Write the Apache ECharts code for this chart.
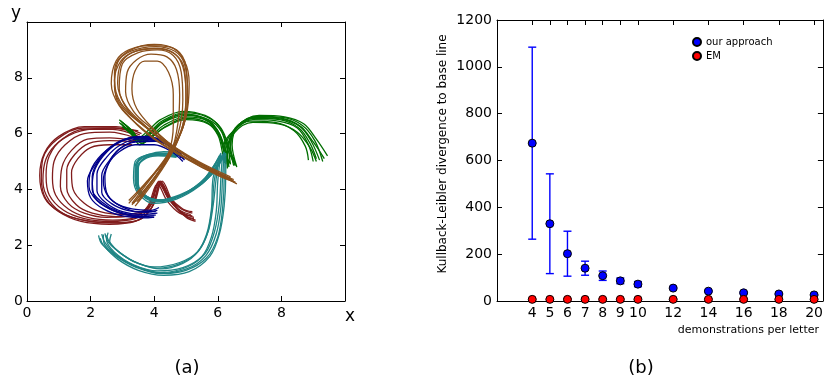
<!DOCTYPE html>
<html><head><meta charset="utf-8">
<script src="https://cdn.jsdelivr.net/npm/echarts@6/dist/echarts.min.js"></script>
<style>html,body{margin:0;padding:0;background:#fff}#c{width:826px;height:383px}</style>
</head><body><div id="c"></div>
<script>
// ---------- Panel (a): letter trajectories (x, y) ----------
const red1 = [[3.6,6.0],[2.8,6.25],[1.8,6.25],[1.0,5.9],[0.55,5.3],[0.4,4.5],[0.55,3.7],[1.0,3.2],[1.7,2.85],[2.6,2.75],[3.4,2.85],[3.9,3.3],[4.2,4.2],[4.5,3.6],[4.9,3.1],[5.3,2.9]];
const red2 = [[3.5,5.9],[2.7,6.15],[1.8,6.15],[1.1,5.8],[0.7,5.2],[0.6,4.5],[0.7,3.8],[1.15,3.25],[1.8,2.95],[2.6,2.85],[3.4,2.95],[3.85,3.35],[4.15,4.3],[4.45,3.7],[4.85,3.2],[5.25,3.0]];
const red3 = [[3.4,5.85],[2.6,6.05],[1.8,6.0],[1.2,5.6],[0.85,5.0],[0.8,4.4],[0.9,3.8],[1.3,3.3],[1.9,3.0],[2.7,2.9],[3.4,3.0],[3.8,3.4],[4.1,4.2],[4.4,3.6],[4.8,3.15],[5.2,3.05]];
const red4 = [[3.3,5.6],[2.6,5.6],[2.0,5.5],[1.6,5.1],[1.4,4.6],[1.45,4.0],[1.8,3.5],[2.3,3.2],[3.0,3.1],[3.6,3.2],[4.0,3.6],[4.2,4.3],[4.5,3.7],[4.9,3.3],[5.2,3.2]];
const red5 = [[3.5,6.1],[2.7,6.2],[1.7,6.1],[1.0,5.7],[0.6,5.1],[0.5,4.3],[0.7,3.6],[1.2,3.1],[2.0,2.85],[2.9,2.8],[3.6,2.95],[4.0,3.5],[4.25,4.3],[4.6,3.5],[5.0,3.0],[5.3,2.85]];
const red6 = [[3.4,5.75],[2.6,5.85],[1.9,5.8],[1.4,5.4],[1.1,4.8],[1.05,4.1],[1.3,3.5],[1.8,3.15],[2.5,3.0],[3.3,3.05],[3.8,3.35],[4.15,4.25],[4.45,3.65],[4.8,3.25],[5.15,3.1]];
const red7 = [[3.55,5.95],[2.75,6.2],[1.75,6.2],[0.95,5.8],[0.5,5.1],[0.45,4.4],[0.6,3.65],[1.1,3.15],[1.85,2.88],[2.7,2.8],[3.5,2.9],[3.95,3.4],[4.2,4.25],[4.55,3.55],[5.0,3.05],[5.25,2.95]];
const red8 = [[3.4,5.7],[2.6,5.75],[1.95,5.65],[1.5,5.25],[1.25,4.7],[1.25,4.05],[1.55,3.45],[2.05,3.15],[2.8,3.02],[3.5,3.1],[3.9,3.45],[4.15,4.2],[4.45,3.7],[4.85,3.3],[5.2,3.15]];

const green1 = [[2.9,6.4],[3.2,6.1],[3.5,5.75],[3.8,5.95],[4.2,6.35],[4.9,6.7],[5.6,6.55],[6.0,6.1],[6.25,5.4],[6.35,4.8],[6.3,5.4],[6.55,6.15],[7.2,6.6],[8.0,6.55],[8.6,6.25],[8.95,5.7],[9.2,5.05]];
const green2 = [[3.0,6.3],[3.3,6.0],[3.6,5.7],[3.9,5.9],[4.3,6.3],[5.0,6.6],[5.7,6.45],[6.05,6.0],[6.2,5.3],[6.25,4.9],[6.25,5.5],[6.5,6.1],[7.1,6.5],[7.9,6.45],[8.5,6.2],[8.85,5.6],[9.0,5.0]];
const green3 = [[2.95,6.45],[3.25,6.15],[3.55,5.8],[3.85,6.05],[4.25,6.45],[4.95,6.75],[5.65,6.6],[6.1,6.2],[6.35,5.5],[6.5,4.85],[6.4,5.5],[6.6,6.25],[7.3,6.65],[8.1,6.6],[8.7,6.35],[9.1,5.8],[9.45,5.2]];
const green4 = [[3.05,6.35],[3.35,6.05],[3.6,5.65],[3.95,5.9],[4.35,6.25],[5.0,6.55],[5.65,6.4],[6.0,5.95],[6.15,5.3],[6.2,4.95],[6.2,5.6],[6.45,6.05],[7.0,6.45],[7.8,6.4],[8.4,6.1],[8.75,5.55],[8.85,5.05]];
const green5 = [[2.9,6.5],[3.2,6.2],[3.5,5.85],[3.8,6.1],[4.2,6.5],[4.9,6.8],[5.6,6.65],[6.05,6.25],[6.3,5.6],[6.6,4.8],[6.45,5.6],[6.65,6.3],[7.25,6.62],[8.05,6.58],[8.65,6.3],[9.05,5.75],[9.3,5.0]];
const green6 = [[3.0,6.25],[3.3,5.95],[3.55,5.6],[3.9,5.85],[4.3,6.2],[5.0,6.5],[5.7,6.35],[6.05,5.9],[6.25,5.2],[6.3,4.75],[6.3,5.3],[6.5,6.0],[7.1,6.4],[7.9,6.35],[8.5,6.05],[8.9,5.5],[9.1,5.0]];
const green7 = [[2.95,6.35],[3.25,6.05],[3.55,5.7],[3.85,5.95],[4.25,6.4],[4.95,6.7],[5.6,6.5],[6.0,6.05],[6.2,5.35],[6.4,4.9],[6.35,5.45],[6.55,6.2],[7.15,6.55],[7.95,6.5],[8.55,6.2],[8.9,5.65],[9.1,5.1]];
const green8 = [[3.0,6.4],[3.3,6.1],[3.55,5.75],[3.9,6.0],[4.3,6.4],[5.0,6.65],[5.7,6.5],[6.1,6.1],[6.3,5.45],[6.55,4.85],[6.4,5.55],[6.6,6.2],[7.2,6.58],[8.0,6.52],[8.6,6.25],[9.0,5.7],[9.35,5.1]];

const teal1 = [[4.8,5.25],[4.2,5.3],[3.7,5.2],[3.45,4.9],[3.4,4.3],[3.6,3.8],[4.1,3.55],[4.8,3.75],[5.5,4.2],[5.9,4.7],[6.15,5.25],[6.1,4.5],[6.05,3.5],[5.9,2.5],[5.6,1.7],[5.0,1.2],[4.2,1.02],[3.4,1.25],[2.8,1.65],[2.45,2.1],[2.35,2.4]];
const teal2 = [[4.7,5.2],[4.1,5.25],[3.65,5.1],[3.5,4.7],[3.5,4.2],[3.75,3.75],[4.3,3.6],[4.9,3.8],[5.5,4.25],[5.85,4.8],[6.05,5.2],[5.95,4.4],[5.85,3.4],[5.7,2.5],[5.4,1.8],[4.9,1.35],[4.2,1.15],[3.5,1.35],[2.95,1.7],[2.6,2.1],[2.5,2.35]];
const teal3 = [[4.9,5.3],[4.3,5.35],[3.8,5.25],[3.4,5.0],[3.35,4.4],[3.5,3.85],[4.0,3.5],[4.7,3.65],[5.4,4.1],[5.95,4.75],[6.25,5.3],[6.25,4.5],[6.2,3.4],[6.05,2.4],[5.75,1.6],[5.1,1.05],[4.3,0.92],[3.5,1.1],[2.85,1.5],[2.4,2.0],[2.3,2.25]];
const teal4 = [[4.75,5.2],[4.15,5.25],[3.6,5.15],[3.4,4.8],[3.45,4.2],[3.7,3.75],[4.2,3.58],[4.85,3.8],[5.45,4.25],[5.8,4.7],[6.1,5.3],[6.0,4.3],[5.95,3.2],[5.8,2.3],[5.5,1.6],[4.9,1.2],[4.1,1.08],[3.35,1.3],[2.75,1.75],[2.5,2.2],[2.55,2.45]];
const teal5 = [[4.85,5.3],[4.25,5.28],[3.75,5.15],[3.5,4.85],[3.45,4.35],[3.65,3.85],[4.15,3.62],[4.8,3.8],[5.45,4.2],[5.9,4.65],[6.2,5.35],[6.2,4.4],[6.15,3.3],[6.0,2.3],[5.65,1.55],[5.0,1.1],[4.2,0.98],[3.45,1.2],[2.8,1.6],[2.35,2.05],[2.25,2.35]];
const teal6 = [[4.7,5.15],[4.1,5.2],[3.65,5.05],[3.45,4.7],[3.5,4.1],[3.8,3.7],[4.35,3.62],[4.95,3.85],[5.55,4.3],[5.95,4.9],[6.15,5.2],[5.85,4.4],[5.8,3.3],[5.65,2.4],[5.35,1.75],[4.8,1.38],[4.0,1.22],[3.35,1.42],[2.85,1.8],[2.6,2.15],[2.65,2.4]];
const teal7 = [[4.8,5.22],[4.2,5.27],[3.7,5.18],[3.45,4.85],[3.42,4.3],[3.62,3.82],[4.15,3.58],[4.85,3.78],[5.5,4.22],[5.9,4.75],[6.2,5.28],[6.15,4.45],[6.1,3.4],[5.95,2.4],[5.62,1.62],[5.02,1.15],[4.25,1.0],[3.45,1.22],[2.82,1.62],[2.42,2.08],[2.4,2.38]];
const teal8 = [[4.75,5.18],[4.15,5.22],[3.68,5.1],[3.48,4.75],[3.48,4.2],[3.72,3.78],[4.25,3.6],[4.9,3.82],[5.5,4.28],[5.88,4.85],[6.1,5.22],[5.9,4.4],[5.82,3.35],[5.68,2.45],[5.38,1.78],[4.85,1.36],[4.1,1.18],[3.42,1.38],[2.9,1.75],[2.55,2.12],[2.45,2.42]];

const navy1 = [[4.95,5.05],[4.7,5.45],[4.2,5.8],[3.5,5.88],[2.9,5.7],[2.35,5.25],[2.0,4.65],[1.95,4.1],[2.2,3.6],[2.7,3.25],[3.3,3.05],[4.0,3.0]];
const navy2 = [[4.9,5.1],[4.6,5.5],[4.1,5.75],[3.5,5.8],[2.95,5.6],[2.5,5.15],[2.2,4.55],[2.2,3.95],[2.5,3.5],[3.0,3.2],[3.6,3.1],[4.1,3.15]];
const navy3 = [[4.85,5.15],[4.5,5.55],[4.0,5.75],[3.4,5.72],[2.9,5.45],[2.6,5.0],[2.45,4.45],[2.5,3.9],[2.8,3.5],[3.3,3.3],[3.9,3.25],[4.15,3.35]];
const navy4 = [[4.8,5.2],[4.45,5.6],[3.9,5.85],[3.3,5.85],[2.75,5.6],[2.3,5.1],[2.05,4.45],[2.1,3.8],[2.45,3.4],[3.0,3.12],[3.6,3.02],[4.0,3.05]];
const navy5 = [[4.9,5.0],[4.55,5.35],[4.0,5.6],[3.4,5.6],[2.9,5.35],[2.55,4.9],[2.4,4.3],[2.55,3.75],[2.95,3.4],[3.5,3.2],[4.05,3.2]];
const navy6 = [[4.75,5.3],[4.4,5.65],[3.8,5.9],[3.2,5.85],[2.6,5.5],[2.15,4.9],[1.9,4.3],[2.0,3.7],[2.4,3.3],[3.0,3.05],[3.7,2.98],[3.95,3.0]];
const navy7 = [[4.92,5.08],[4.65,5.48],[4.15,5.78],[3.45,5.85],[2.85,5.65],[2.4,5.2],[2.1,4.6],[2.05,4.0],[2.35,3.55],[2.85,3.22],[3.45,3.08],[4.05,3.08]];
const navy8 = [[4.85,5.12],[4.55,5.5],[4.05,5.72],[3.45,5.7],[2.95,5.48],[2.6,5.05],[2.35,4.5],[2.35,3.9],[2.65,3.5],[3.15,3.25],[3.75,3.18],[4.1,3.25]];

const brown1 = [[3.2,3.5],[3.8,4.3],[4.4,5.2],[4.9,6.2],[5.05,7.3],[5.0,8.4],[4.7,9.0],[4.0,9.2],[3.2,9.0],[2.8,8.6],[2.65,7.8],[2.9,7.0],[3.5,6.3],[4.3,5.6],[5.4,4.9],[6.5,4.3]];
const brown2 = [[3.3,3.5],[3.9,4.4],[4.5,5.3],[4.9,6.3],[5.0,7.4],[4.9,8.4],[4.6,8.9],[4.0,9.05],[3.3,8.9],[2.95,8.5],[2.85,7.8],[3.1,7.0],[3.7,6.3],[4.5,5.5],[5.5,4.8],[6.4,4.4]];
const brown3 = [[3.5,3.6],[4.0,4.4],[4.45,5.3],[4.6,6.3],[4.6,7.4],[4.45,8.2],[4.1,8.6],[3.7,8.6],[3.4,8.25],[3.3,7.6],[3.45,6.9],[3.95,6.2],[4.7,5.45],[5.7,4.75],[6.6,4.2]];
const brown4 = [[3.4,3.4],[4.0,4.3],[4.6,5.4],[5.0,6.6],[5.1,7.8],[4.95,8.6],[4.5,9.1],[3.8,9.15],[3.0,8.8],[2.75,8.2],[2.8,7.3],[3.3,6.5],[4.0,5.8],[5.0,5.1],[6.0,4.5],[6.55,4.25]];
const brown5 = [[3.2,3.6],[3.7,4.2],[4.3,5.0],[4.75,6.0],[4.9,7.2],[4.85,8.2],[4.6,8.8],[4.1,9.0],[3.5,8.9],[3.0,8.5],[2.9,7.6],[3.2,6.8],[3.8,6.2],[4.6,5.5],[5.6,4.85],[6.45,4.35]];
const brown6 = [[3.3,3.45],[3.85,4.2],[4.45,5.1],[4.85,6.1],[5.0,7.2],[4.95,8.3],[4.65,8.85],[4.1,9.05],[3.4,8.95],[2.95,8.6],[2.75,7.9],[2.95,7.1],[3.6,6.35],[4.4,5.7],[5.4,5.0],[6.4,4.45]];
const brown7 = [[3.35,3.5],[3.95,4.35],[4.55,5.35],[4.95,6.4],[5.05,7.5],[4.95,8.5],[4.65,8.95],[4.05,9.12],[3.25,8.95],[2.85,8.55],[2.75,7.7],[3.0,6.95],[3.65,6.3],[4.45,5.6],[5.45,4.9],[6.5,4.35]];
const brown8 = [[3.45,3.55],[4.05,4.45],[4.55,5.4],[4.75,6.4],[4.8,7.4],[4.7,8.3],[4.4,8.75],[3.9,8.85],[3.45,8.65],[3.15,8.2],[3.1,7.5],[3.35,6.8],[3.9,6.2],[4.65,5.5],[5.6,4.8],[6.55,4.25]];

// ---------- Panel (b): KL divergence vs demonstrations ----------
const demos = [4, 5, 6, 7, 8, 9, 10, 12, 14, 16, 18, 20];
const oursMean = [674, 330, 202, 140, 108, 86, 72, 55, 42, 35, 30, 26];
const oursErr  = [410, 213, 96, 30, 20, 12, 11, 5, 4, 4, 3, 3];
const emMean   = [7, 7, 7, 7, 7, 7, 7, 7, 7, 7, 7, 7];
const emErr    = [3, 3, 3, 3, 3, 3, 3, 3, 3, 3, 3, 3];

const FONT = 'DejaVu Sans';
const letterGroups = [
  {color:'#801c1c', lines:[red1,red2,red3,red4,red5,red6,red7,red8]},
  {color:'#006e00', lines:[green1,green2,green3,green4,green5,green6,green7,green8]},
  {color:'#1f8585', lines:[teal1,teal2,teal3,teal4,teal5,teal6,teal7,teal8]},
  {color:'#00008b', lines:[navy1,navy2,navy3,navy4,navy5,navy6,navy7,navy8]},
  {color:'#8b501c', lines:[brown1,brown2,brown3,brown4,brown5,brown6,brown7,brown8]}
];

const series = [];
letterGroups.forEach((g, gi) => {
  g.lines.forEach(d => series.push({
    type:'line', xAxisIndex:0, yAxisIndex:0, data:d, smooth:0.35,
    symbol:'none', silent:true, z: 2 + gi,
    lineStyle:{color:g.color, width:1.3}
  }));
});

function errRender(color){
  return function(params, api){
    const x = api.value(0), m = api.value(1), e = api.value(2);
    const top = api.coord([x, m + e]), bot = api.coord([x, m - e]);
    const hw = 4;
    const st = {stroke:color, lineWidth:1.4};
    return {type:'group', children:[
      {type:'line', shape:{x1:top[0], y1:top[1], x2:bot[0], y2:bot[1]}, style:st},
      {type:'line', shape:{x1:top[0]-hw, y1:top[1], x2:top[0]+hw, y2:top[1]}, style:st},
      {type:'line', shape:{x1:bot[0]-hw, y1:bot[1], x2:bot[0]+hw, y2:bot[1]}, style:st}
    ]};
  };
}

series.push({type:'custom', name:'ourErr', xAxisIndex:2, yAxisIndex:2, renderItem:errRender('#0000ff'),
  data: demos.map((x,i)=>[x, oursMean[i], oursErr[i]]), encode:{x:0, y:1}, z:5, silent:true});
series.push({type:'custom', name:'emErr', xAxisIndex:2, yAxisIndex:2, renderItem:errRender('#ff0000'),
  data: demos.map((x,i)=>[x, emMean[i], emErr[i]]), encode:{x:0, y:1}, z:5, silent:true});
series.push({type:'scatter', name:'our approach', xAxisIndex:2, yAxisIndex:2, symbolSize:8,
  data: demos.map((x,i)=>[x, oursMean[i]]), itemStyle:{color:'#0000ff', borderColor:'#000', borderWidth:1, opacity:1}, z:10});
series.push({type:'scatter', name:'EM', xAxisIndex:2, yAxisIndex:2, symbolSize:8,
  data: demos.map((x,i)=>[x, emMean[i]]), itemStyle:{color:'#ff0000', borderColor:'#000', borderWidth:1, opacity:1}, z:10});

const axLine = {show:true, onZero:false, lineStyle:{color:'#000', width:1}};
const tick = {show:true, inside:true, length:5, lineStyle:{color:'#000', width:1}};
const lab = {color:'#000', fontSize:14, fontFamily:FONT};
const plain = v => String(v);

const option = {
  animation:false,
  backgroundColor:'#fff',
  grid:[
    {left:27, top:22, width:318, height:279, containLabel:false},
    {left:497, top:20, width:326, height:281, containLabel:false}
  ],
  xAxis:[
    {gridIndex:0, type:'value', min:0, max:10, interval:2, position:'bottom', axisLine:axLine, axisTick:tick,
      axisLabel:Object.assign({margin:5, formatter:v => v === 10 ? '' : String(v)}, lab), splitLine:{show:false}},
    {gridIndex:0, type:'value', min:0, max:10, interval:2, position:'top', axisLine:axLine, axisTick:tick,
      axisLabel:{show:false}, splitLine:{show:false}},
    {gridIndex:1, type:'value', min:2, max:20.5, position:'bottom', axisLine:axLine,
      axisTick:Object.assign({customValues:demos}, tick),
      axisLabel:Object.assign({margin:5, customValues:demos, formatter:plain}, lab), splitLine:{show:false}},
    {gridIndex:1, type:'value', min:2, max:20.5, position:'top', axisLine:axLine,
      axisTick:Object.assign({customValues:demos}, tick),
      axisLabel:{show:false}, splitLine:{show:false}}
  ],
  yAxis:[
    {gridIndex:0, type:'value', min:0, max:10, interval:2, position:'left', axisLine:axLine, axisTick:tick,
      axisLabel:Object.assign({margin:4, formatter:v => v === 10 ? '' : String(v)}, lab), splitLine:{show:false}},
    {gridIndex:0, type:'value', min:0, max:10, interval:2, position:'right', axisLine:axLine, axisTick:tick,
      axisLabel:{show:false}, splitLine:{show:false}},
    {gridIndex:1, type:'value', min:0, max:1200, interval:200, position:'left', axisLine:axLine, axisTick:tick,
      axisLabel:Object.assign({margin:5, formatter:plain}, lab), splitLine:{show:false}},
    {gridIndex:1, type:'value', min:0, max:1200, interval:200, position:'right', axisLine:axLine, axisTick:tick,
      axisLabel:{show:false}, splitLine:{show:false}}
  ],
  legend:{
    data:['our approach','EM'], orient:'vertical', left:692, top:37, itemWidth:8, itemHeight:8, itemGap:4,
    padding:0, textStyle:{fontSize:10, fontFamily:FONT, color:'#000'}, selectedMode:false
  },
  graphic:[
    {type:'text', x:16, y:14, style:{text:'y', font:'17px "DejaVu Sans"', fill:'#000', textAlign:'center', textVerticalAlign:'middle'}},
    {type:'text', x:350, y:317, style:{text:'x', font:'17px "DejaVu Sans"', fill:'#000', textAlign:'center', textVerticalAlign:'middle'}},
    {type:'text', x:187, y:368, style:{text:'(a)', font:'18px "DejaVu Sans"', fill:'#000', textAlign:'center', textVerticalAlign:'middle'}},
    {type:'text', x:641, y:368, style:{text:'(b)', font:'18px "DejaVu Sans"', fill:'#000', textAlign:'center', textVerticalAlign:'middle'}},
    {type:'text', x:819, y:330, style:{text:'demonstrations per letter', font:'11px "DejaVu Sans"', fill:'#000', textAlign:'right', textVerticalAlign:'middle'}},
    {type:'text', x:443, y:154, rotation:Math.PI/2, style:{text:'Kullback-Leibler divergence to base line', font:'12px "DejaVu Sans"', fill:'#000', textAlign:'center', textVerticalAlign:'middle'}}
  ],
  series: series
};

const chart = echarts.init(document.getElementById('c'));
chart.setOption(option);
</script></body></html>
